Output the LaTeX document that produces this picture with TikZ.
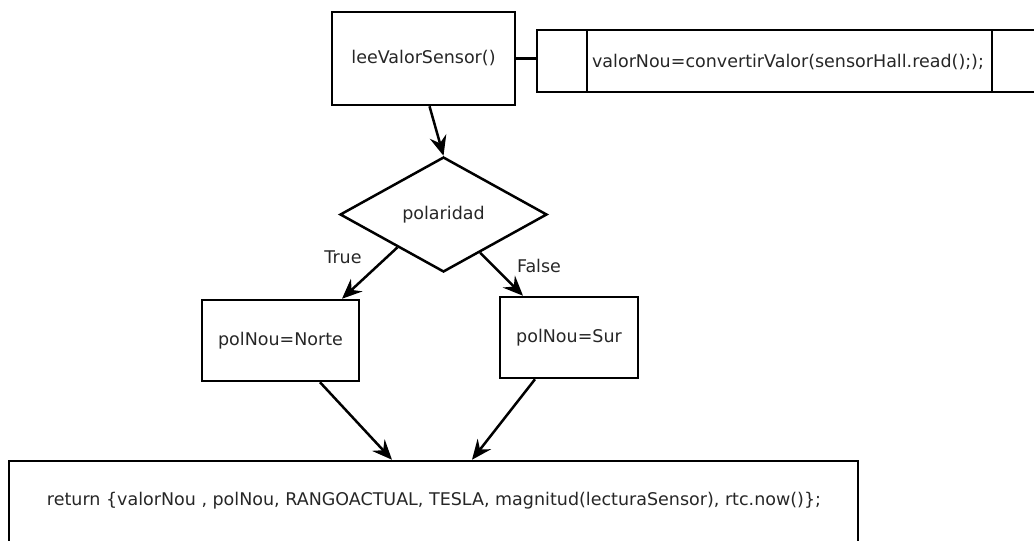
\documentclass[tikz,border=0pt]{standalone}
\usepackage{fontspec}
\setmainfont{DejaVu Sans}
\usetikzlibrary{arrows.meta,shapes.geometric,calc}

\tikzset{
  txt/.style={font=\fontsize{17.5}{20}\selectfont},
  box/.style={draw, line width=2.5pt, inner sep=0pt, align=center, txt},
  label/.style={inner sep=0pt, txt},
  flow/.style={draw, line width=2.5pt, -{Stealth[length=20pt,width=17pt,inset=7pt]}},
  link/.style={draw, line width=2.5pt}
}

\begin{document}
\begin{tikzpicture}[x=1pt, y=-1pt, text=black!85]
  \useasboundingbox (0,0) rectangle (1034,541);
  \begin{scope}
    \clip (0,0) rectangle (1034,541);

    % function entry and its body
    \node[box, minimum width=183pt, minimum height=93pt] (read) at (423.5,58.5) {leeValorSensor()};
    \node[box, minimum width=508pt, minimum height=62pt] (body) at (791,61) {};
    \draw[line width=2.5pt] (587,30) -- (587,92) (992,30) -- (992,92);
    \node[label] (conv) at (788,62) {valorNou=convertirValor(sensorHall.read(););};
    \draw[link] (read.east) -- (read.east -| body.west);

    % decision on the polarity
    \node[draw, line width=2.5pt, shape=diamond, minimum width=207pt, minimum height=115pt,
          inner sep=0pt, txt] (pol) at (443.5,214.5) {polaridad};
    \draw[flow] ($(read.south)+(6,0)$) -- (pol.north);

    \node[box, minimum width=157pt, minimum height=81pt] (north) at (280.5,340.5) {polNou=Norte};
    \node[box, minimum width=138pt, minimum height=81pt] (south) at (569,337.5) {polNou=Sur};

    \draw[flow] ($(pol.west)!0.56!(pol.south)$) -- ($(north.north)+(61.5,0)$);
    \draw[flow] ($(pol.south)!0.35!(pol.east)$) -- ($(south.north)+(-46,0)$);
    \node[label] (t) at (343,257) {True};
    \node[label] (f) at (539,266) {False};

    % returned record
    \node[box, minimum width=849pt, minimum height=90pt] (ret) at (433.5,506) {};
    \node[label] (rettext) at (434,501) {return \{valorNou , polNou, RANGOACTUAL, TESLA, magnitud(lecturaSensor), rtc.now()\};};

    \draw[flow] ($(north.south)+(39.5,0)$) -- ($(ret.north)+(-41.5,0)$);
    \draw[flow] ($(south.south)+(-34,0)$) -- ($(ret.north)+(38.5,0)$);
  \end{scope}
\end{tikzpicture}
\end{document}
